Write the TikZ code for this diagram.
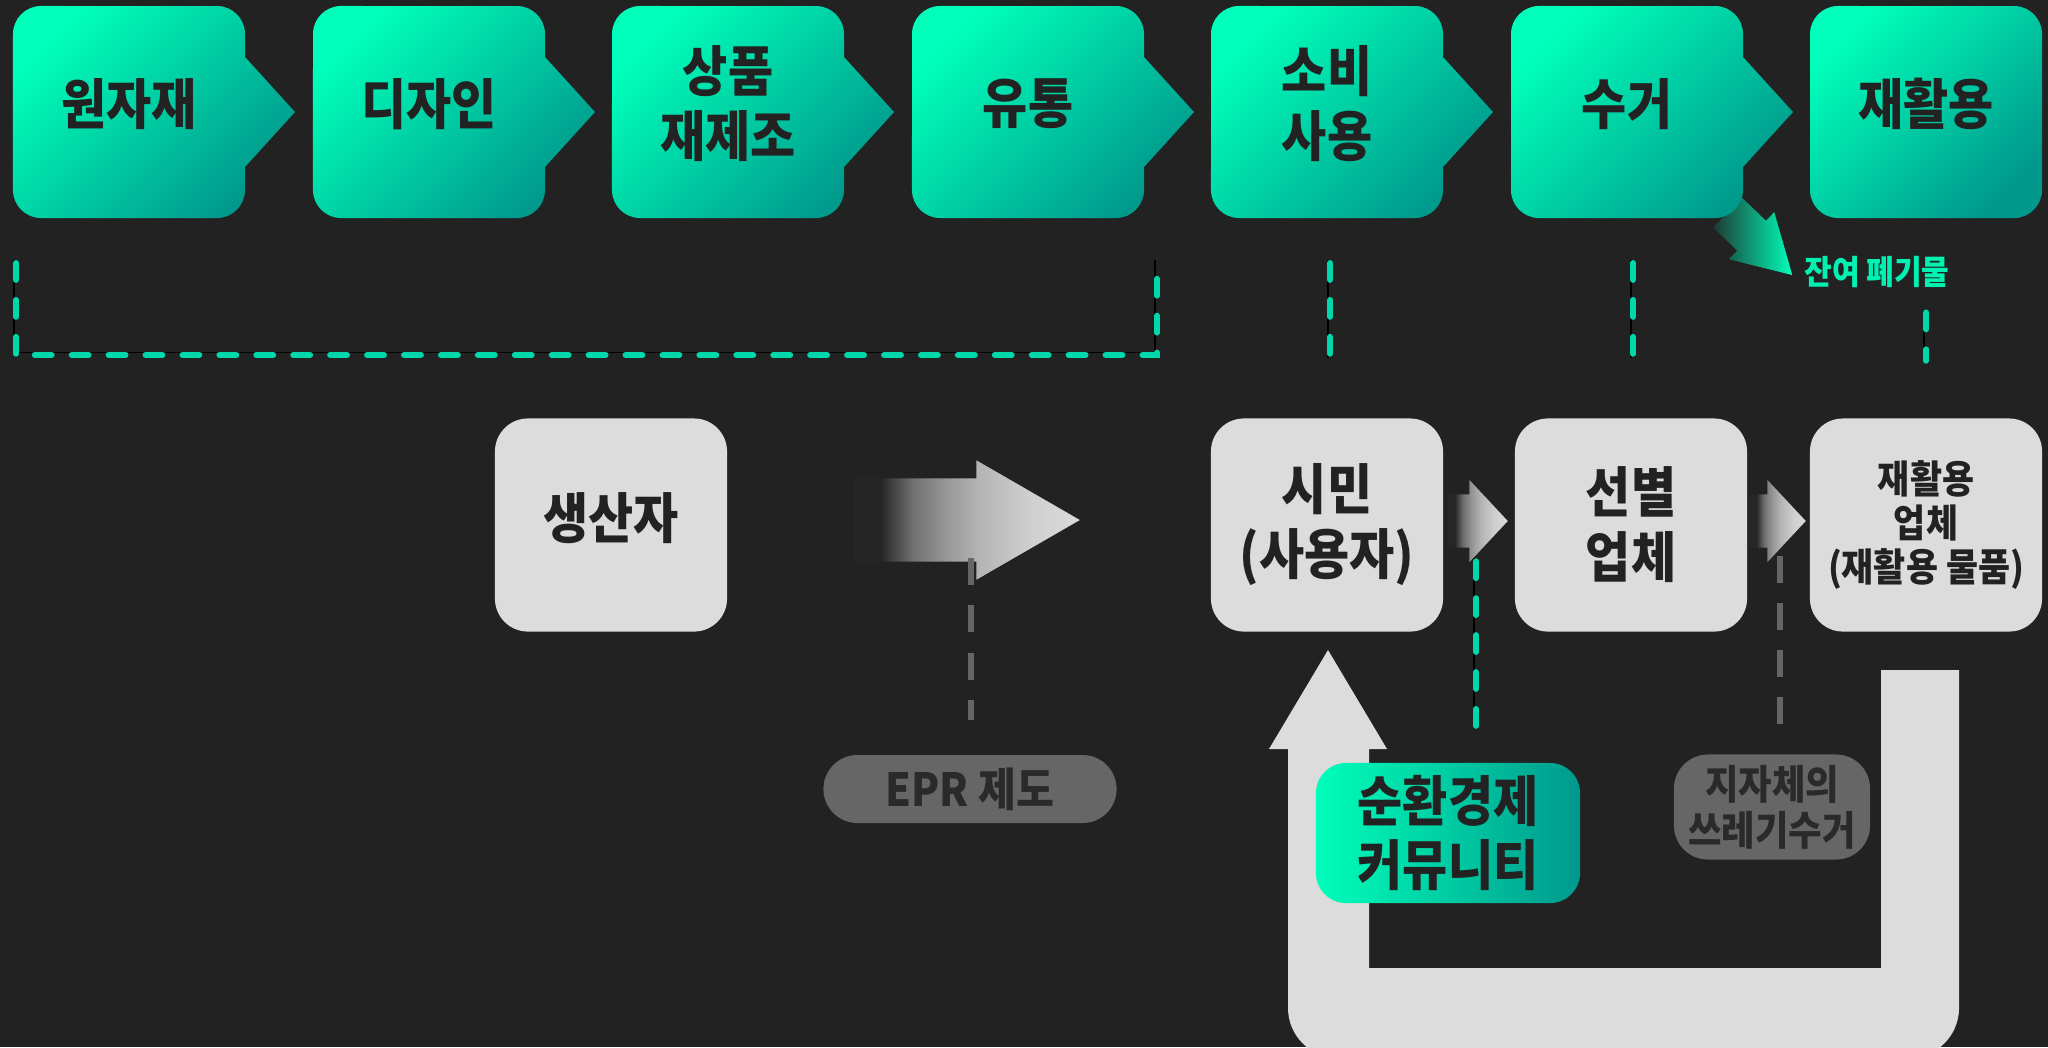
\documentclass[tikz,border=0pt]{standalone}
\usepackage{fontspec}
\setmainfont{Noto Sans CJK KR}[FakeStretch=0.9]
\usetikzlibrary{shapes.arrows,calc}
\definecolor{bgdark}{HTML}{222222}
\definecolor{mintA}{HTML}{00FFBA}
\definecolor{mintB}{HTML}{00998C}
\definecolor{boxgray}{HTML}{DCDCDC}
\definecolor{pillgray}{HTML}{666666}
\definecolor{ink}{HTML}{222222}
\definecolor{tagink}{HTML}{2A2A2A}
\definecolor{dashgreen}{HTML}{00D8AC}
\definecolor{dashgray}{HTML}{666666}
\definecolor{wastegreen}{HTML}{00F2B3}
\definecolor{wasteA}{HTML}{1E3A34}
\definecolor{fadeA}{HTML}{262626}
\definecolor{fadeB}{HTML}{707070}
\definecolor{fadeC}{HTML}{9A9A9A}
\definecolor{fadeD}{HTML}{B5B5B5}
\definecolor{fadeE}{HTML}{CFCFCF}
\definecolor{fadeF}{HTML}{DADADA}
\pgfdeclarehorizontalshading{grayfade}{100bp}{color(0bp)=(fadeA); color(25bp)=(fadeA); color(31bp)=(fadeA); color(38bp)=(fadeB); color(46bp)=(fadeC); color(53bp)=(fadeD); color(64bp)=(fadeE); color(75bp)=(fadeF); color(100bp)=(fadeF)}

\begin{document}
\begin{tikzpicture}[x=0.01cm,y=-0.01cm,
  stepfill/.style={top color=mintA,bottom color=mintB,shading angle=45},
  chevron/.pic={\path[stepfill] (-116,-70) arc[start angle=180,end angle=90,radius=0.28cm] -- (88,-98) arc[start angle=90,end angle=0,radius=0.28cm] -- (116,-47) -- (166,8) -- (116,63) -- (116,86) arc[start angle=0,end angle=-90,radius=0.28cm] -- (-88,114) arc[start angle=-90,end angle=-180,radius=0.28cm] -- cycle;},
  chevron end/.pic={\path[stepfill] (-116,-70) arc[start angle=180,end angle=90,radius=0.28cm] -- (88,-98) arc[start angle=90,end angle=0,radius=0.28cm] -- (116,86) arc[start angle=0,end angle=-90,radius=0.28cm] -- (-88,114) arc[start angle=-90,end angle=-180,radius=0.28cm] -- cycle;},
  steplabel/.style={text=ink,align=center,inner sep=0pt,font=\fontsize{15.5}{18.5}\selectfont\bfseries},
  actor/.style={fill=boxgray,rounded corners=0.33cm,minimum width=2.32cm,minimum height=2.13cm,inner sep=0pt,text=ink,align=center,font=\fontsize{15.5}{18.5}\selectfont\bfseries},
  tag/.style={fill=pillgray,rounded corners=0.34cm,inner sep=0pt,text=tagink,align=center},
  hub/.style={left color=mintA,right color=mintB,rounded corners=0.3cm,minimum width=2.64cm,minimum height=1.4cm,inner sep=0pt,text=ink,align=center,font=\fontsize{15.5}{18}\selectfont\bfseries},
  fatarrow/.style={single arrow,shade,shading=grayfade,shading angle=0,inner xsep=0pt,single arrow head indent=0pt,anchor=tail},
  gdash/.style={dashgreen,line width=1.7pt,line cap=round,dash pattern=on 4.8pt off 5.7pt,preaction={draw=black,transform canvas={shift={(-0.6pt,0.8pt)}}}},
  graydash/.style={dashgray,line width=1.9pt,dash pattern=on 7.7pt off 5.7pt},
  loopfill/.style={fill=boxgray}]
\useasboundingbox (0,0) rectangle (2048,1047);
\clip (0,0) rectangle (2048,1047);
\fill[bgdark] (0,0) rectangle (2048,1047);

% waste arrow sits behind the collection step
\node[single arrow,anchor=tail,inner xsep=0pt,inner ysep=0.2cm,minimum height=0.9cm,single arrow head extend=0.12cm,single arrow tip angle=60,single arrow head indent=0pt,rotate=-44,left color=wasteA,right color=mintA] (wastearrow) at (1727,212) {};

% value chain
\path (129,104) pic {chevron} node[steplabel] (s1) {원자재};
\path (429,104) pic {chevron} node[steplabel] (s2) {디자인};
\path (728,104) pic {chevron} node[steplabel] (s3) {상품\\재제조};
\path (1028,104) pic {chevron} node[steplabel] (s4) {유통};
\path (1327,104) pic {chevron} node[steplabel] (s5) {소비\\사용};
\path (1627,104) pic {chevron} node[steplabel] (s6) {수거};
\path (1926,104) pic {chevron end} node[steplabel] (s7) {재활용};
\node[text=wastegreen,inner sep=0pt,font=\fontsize{9.5}{11}\selectfont\bfseries] (waste) at (1877,272) {잔여 폐기물};

% actors
\node[actor,label={[steplabel,yshift=0.07cm]center:생산자}] (producer) at (611,525) {};
\node[actor] (citizen) at (1327,525) {시민\\(사용자)};
\node[actor] (sorter) at (1631,525) {선별\\업체};
\node[actor,font=\fontsize{11}{12.5}\selectfont\bfseries] (rec) at (1926,525) {재활용\\업체\\(재활용 물품)};

% links between the chain and the actors
\draw[gdash] ($(s1)+(-113,159)$) |- ($(s4)+(129,251)$) -- ($(s4)+(129,159)$);
\draw[gdash] ($(s5)+(3,159)$) -- ($(citizen.north)+(3,-57)$);
\draw[gdash] ($(s6)+(6,159)$) -- ($(sorter.north)+(2,-57)$);
\draw[gdash] ($(rec.north |- waste.south)+(0,24)$) -- ($(rec.north)+(0,-57)$);

% return loop
\fill[loopfill] (1881,670) -- (1881,968) -- (1369,968) -- (1369,749) -- (1387,749) -- (1328,650) -- (1269,749) -- (1288,749) -- (1288,1008) arc[start angle=180,end angle=270,radius=0.5cm] -- (1909,1058) arc[start angle=270,end angle=360,radius=0.5cm] -- (1959,670) -- cycle;

% flows
\node[fatarrow,inner ysep=0.41cm,minimum height=2.26cm,single arrow head extend=0.18cm,single arrow tip angle=60] (eprarrow) at (853,520) {};
\node[fatarrow,inner ysep=0.26cm,minimum height=0.6cm,single arrow head extend=0.145cm,single arrow tip angle=94] (handoff) at (1447,521) {};
\node[fatarrow,inner ysep=0.26cm,minimum height=0.56cm,single arrow head extend=0.145cm,single arrow tip angle=94] (sendon) at (1749,521) {};

% labels
\node[tag,minimum width=2.93cm,minimum height=0.68cm,font=\fontsize{13}{15}\selectfont\bfseries] (eprpill) at (970,789) {EPR 제도};
\node[tag,minimum width=1.96cm,minimum height=1.05cm,font=\fontsize{11.5}{13}\selectfont\bfseries] (municipal) at (1772,807) {지자체의\\쓰레기수거};
\node[hub] (community) at (1448,833) {순환경제\\커뮤니티};
\draw[graydash] ($(eprpill.north)+(1,-196)$) -- ($(eprpill.north)+(1,-34)$);
\draw[graydash] ($(municipal.north)+(8,-198)$) -- ($(municipal.north)+(8,-28)$);
\draw[gdash] ($(community.north)+(28,-201)$) -- ($(community.north)+(28,-33)$);
\end{tikzpicture}
\end{document}
